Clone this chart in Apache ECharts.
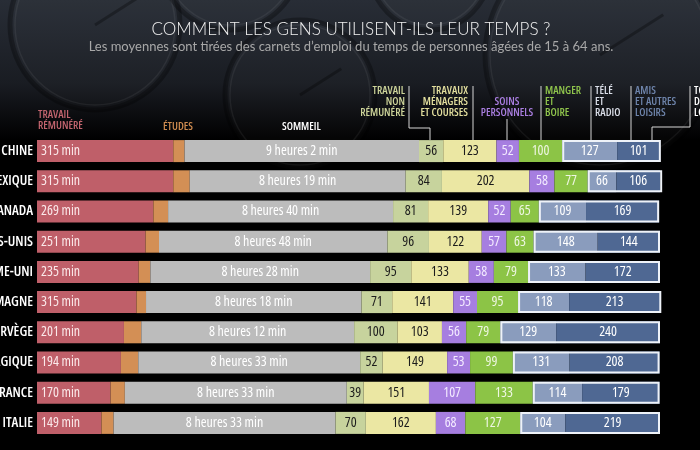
<!DOCTYPE html>
<html>
<head>
<meta charset="utf-8">
<script src="https://cdn.jsdelivr.net/npm/echarts@6/dist/echarts.min.js"></script>
<style>
  html, body { margin: 0; padding: 0; background: #000; }
  #chart { width: 700px; height: 450px; }
</style>
</head>
<body>
<div id="chart"></div>
<script>
// pays (les noms sont coupés par le bord gauche, comme sur l'original)
const countries = ['CHINE', 'MEXIQUE', 'CANADA', 'ÉTATS-UNIS', 'ROYAUME-UNI', 'ALLEMAGNE', 'NORVÈGE', 'BELGIQUE', 'FRANCE', 'ITALIE']

// minutes par jour
const paidWork = [315, 315, 269, 251, 235, 230, 201, 194, 170, 149]
const paidWorkLabels = ['315 min', '315 min', '269 min', '251 min', '235 min', '315 min', '201 min', '194 min', '170 min', '149 min']
const studies = [26, 38, 34, 31, 27, 22, 40, 40, 33, 28]
const sleep = [542, 499, 520, 528, 508, 498, 492, 513, 513, 513]
const unpaidWork = [56, 84, 81, 96, 95, 71, 100, 52, 39, 70]
const housework = [123, 202, 139, 122, 133, 141, 103, 149, 151, 162]
const personalCare = [52, 58, 52, 57, 58, 55, 56, 53, 107, 68]
const eating = [100, 77, 65, 63, 79, 95, 79, 99, 133, 127]
const tvRadio = [127, 66, 109, 148, 133, 118, 129, 131, 114, 104]
const friends = [101, 106, 169, 144, 172, 213, 240, 208, 179, 219]

// police étroite : on passe par font-stretch
const FONT = "'Open Sans', 'Noto Sans', sans-serif"
const NARROW = 'condensed 500'

function hoursLabel(m) {
  return Math.floor(m / 60) + ' heures ' + (m % 60) + ' min'
}

function seg(name, data, color, label) {
  return {
    name: name,
    type: 'bar',
    stack: 'jour',
    barWidth: 22,
    data: data,
    itemStyle: { color: color },
    label: Object.assign({
      show: true,
      fontFamily: FONT,
      fontWeight: NARROW,
      fontSize: 14
    }, label || {}),
    emphasis: { disabled: true }
  }
}

// cadre blanc autour de télé + loisirs
const leisureBox = countries.map((c, i) => {
  const start = paidWork[i] + studies[i] + sleep[i] + unpaidWork[i] + housework[i] + personalCare[i] + eating[i]
  return [start, start + tvRadio[i] + friends[i], i]
})

const chart = echarts.init(document.getElementById('chart'))

function headerText(x, y, lines, color, align) {
  return {
    type: 'text',
    x: x,
    y: y,
    style: {
      text: lines.join('\n'),
      fill: color,
      font: 'condensed 600 11px ' + FONT,
      align: align || 'left',
      verticalAlign: 'top',
      lineHeight: 11
    }
  }
}

function leader(points) {
  return {
    type: 'polyline',
    shape: { points: points },
    style: { stroke: '#d6d6d6', lineWidth: 1, fill: null }
  }
}

function clock(cx, cy, r) {
  return [{
    type: 'circle',
    shape: { cx: cx, cy: cy, r: r },
    style: { fill: 'rgba(255,255,255,0.02)', stroke: 'rgba(0,0,0,0.3)', lineWidth: 5 }
  }, {
    type: 'circle',
    shape: { cx: cx, cy: cy, r: r - 5 },
    style: { fill: null, stroke: 'rgba(255,255,255,0.06)', lineWidth: 1.5 }
  }, {
    type: 'line',
    shape: { x1: cx, y1: cy, x2: cx + r * 0.55, y2: cy - r * 0.35 },
    style: { stroke: 'rgba(0,0,0,0.3)', lineWidth: 3 }
  }]
}

chart.setOption({
  backgroundColor: '#000',
  animation: false,
  graphic: [
    {
      type: 'rect',
      shape: { x: 0, y: 0, width: 700, height: 140 },
      style: {
        fill: new echarts.graphic.LinearGradient(0, 0, 0, 1, [
          { offset: 0, color: '#282d36' },
          { offset: 0.6, color: '#191c22' },
          { offset: 1, color: '#000' }
        ])
      }
    },
    ...clock(95, 25, 85),
    ...clock(300, 95, 75),
    ...clock(230, -40, 70),
    ...clock(600, 55, 115),
    ...clock(430, -30, 60),
    {
      type: 'text',
      x: 351,
      y: 30,
      style: {
        text: 'COMMENT LES GENS UTILISENT-ILS LEUR TEMPS ?',
        fill: '#f2f2f2',
        font: '300 17px Lato, sans-serif',
        align: 'center',
        verticalAlign: 'middle'
      }
    },
    {
      type: 'text',
      x: 351,
      y: 47,
      style: {
        text: 'Les moyennes sont tirées des carnets d\u2019emploi du temps de personnes âgées de 15 à 64 ans.',
        fill: '#a8a8a8',
        font: '13px Lato, sans-serif',
        align: 'center',
        verticalAlign: 'middle'
      }
    },
    headerText(38, 109, ['TRAVAIL', 'RÉMUNÉRÉ'], '#c2646e'),
    headerText(163, 121, ['ÉTUDES'], '#cf8c50'),
    headerText(282, 121, ['SOMMEIL'], '#ffffff'),
    headerText(405, 85, ['TRAVAIL', 'NON', 'RÉMUNÉRÉ'], '#cdd49a', 'right'),
    headerText(468, 85, ['TRAVAUX', 'MÉNAGERS', 'ET COURSES'], '#e3df9e', 'right'),
    headerText(507, 96, ['SOINS', 'PERSONNELS'], '#a97ee0', 'center'),
    headerText(545, 85, ['MANGER', 'ET', 'BOIRE'], '#8fc44c'),
    headerText(595, 85, ['TÉLÉ', 'ET', 'RADIO'], '#dadee8'),
    headerText(635, 85, ['AMIS', 'ET AUTRES', 'LOISIRS'], '#6e84ab'),
    headerText(694, 85, ['TOTAL', 'DES', 'LOISIRS'], '#ffffff'),
    leader([[409, 86], [409, 128], [430, 128], [430, 140]]),
    leader([[473, 86], [473, 140]]),
    leader([[507, 119], [507, 140]]),
    leader([[541, 86], [541, 140]]),
    leader([[591, 86], [591, 140]]),
    leader([[631, 86], [631, 140]]),
    leader([[690, 86], [690, 127], [652, 127], [652, 140]])
  ],
  grid: { left: 37, right: 40, top: 136, bottom: 12, containLabel: false, outerBoundsMode: 'none' },
  xAxis: {
    type: 'value',
    min: 0,
    max: 1440,
    show: false
  },
  yAxis: {
    type: 'category',
    data: countries,
    inverse: true,
    axisLine: { show: false },
    axisTick: { show: false },
    axisLabel: {
      color: '#fff',
      fontFamily: FONT,
      fontWeight: 'condensed 600',
      fontSize: 14,
      margin: 4
    }
  },
  series: [
    seg('Travail rémunéré', paidWork, '#bf5f69', {
      position: 'insideLeft', distance: 4, color: '#fbe9ea',
      formatter: p => paidWorkLabels[p.dataIndex]
    }),
    seg('Études', studies, '#d38f55', { show: false }),
    seg('Sommeil', sleep, '#bcbcbc', {
      color: '#fff', formatter: p => hoursLabel(p.value)
    }),
    seg('Travail non rémunéré', unpaidWork, '#c7d39d', { color: '#1c1c1c' }),
    seg('Travaux ménagers', housework, '#ebe7a3', { color: '#1c1c1c' }),
    seg('Soins personnels', personalCare, '#a67ee0', { color: '#f3eaff' }),
    seg('Manger et boire', eating, '#8cc446', { color: '#eef6e2' }),
    seg('Télé et radio', tvRadio, '#8a9cbd', { color: '#fff' }),
    seg('Amis et loisirs', friends, '#4f6893', { color: '#fff' }),
    {
      name: 'Total loisirs',
      type: 'custom',
      data: leisureBox,
      encode: { x: [0, 1], y: 2 },
      z: 5,
      renderItem: function (params, api) {
        const a = api.coord([api.value(0), api.value(2)])
        const b = api.coord([api.value(1), api.value(2)])
        return {
          type: 'rect',
          shape: { x: a[0] + 1, y: a[1] - 10, width: b[0] - a[0] - 2, height: 20 },
          style: { fill: null, stroke: '#eef2f8', lineWidth: 2 }
        }
      },
      label: {
        show: true,
        position: 'right',
        distance: 4,
        color: '#fff',
        fontFamily: FONT,
        fontWeight: NARROW,
        fontSize: 14,
        formatter: p => (tvRadio[p.dataIndex] + friends[p.dataIndex]) + ' min'
      }
    }
  ]
})
</script>
</body>
</html>
